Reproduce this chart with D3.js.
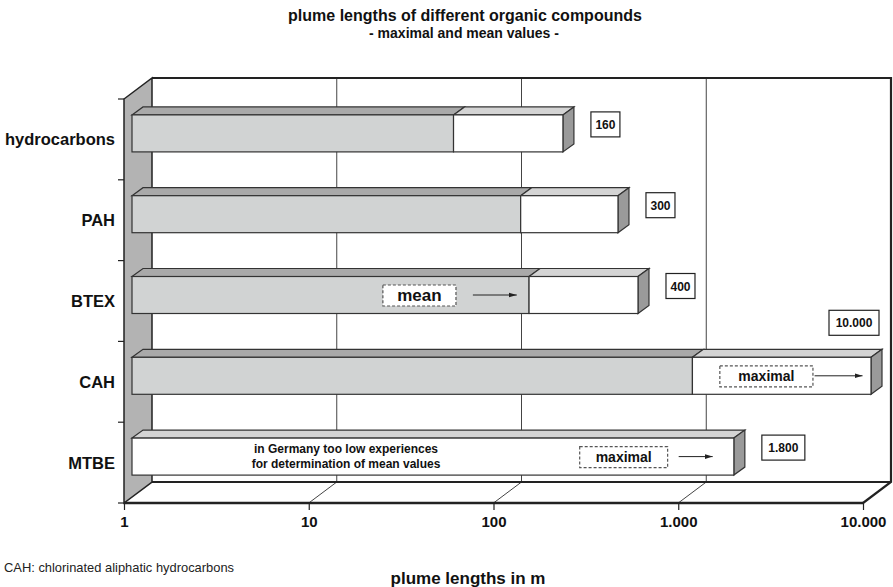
<!DOCTYPE html>
<html>
<head>
<meta charset="utf-8">
<script src="https://cdn.jsdelivr.net/npm/d3@7"></script>
<style>
body { margin: 0; background: #fff; }
text { font-family: "Liberation Sans", Arial, sans-serif; }
</style>
</head>
<body>
<svg id="chart" width="893" height="587"></svg>
<script>
// data
const cats = ["hydrocarbons", "PAH", "BTEX", "CAH", "MTBE"];
const meanVals = [55, 127, 141, 1080, null];
const maxVals = [215, 427, 548, 10000, 1810];
const maxLabels = ["160", "300", "400", "10.000", "1.800"];
const xTicks = [1, 10, 100, 1000, 10000];
// dashed note boxes, in data units along x
const notes = [
  {cat: "BTEX", text: "mean", size: 17, from: 22.8, to: 56.7, arrowFrom: 70, arrowTo: 121},
  {cat: "CAH", text: "maximal", size: 14, from: 1520, to: 4850, arrowFrom: 4950, arrowTo: 9000},
  {cat: "MTBE", text: "maximal", size: 14, from: 265, to: 793, arrowFrom: 910, arrowTo: 1390}
];

const svg = d3.select("#chart");
const de = {x: 28, y: -21};   // wall depth
const bf = {x: 8, y: -6};     // bar front offset
const bd = {x: 11, y: -8};    // bar depth

const x = d3.scaleLog().domain([1, 10000]).range([124, 863]);
const y = d3.scaleBand().domain(cats).range([99, 503]);
const barH = 37;
const de_ = d3.formatLocale({decimal: ",", thousands: ".", grouping: [3], currency: ["", "€"]});
const fmt = de_.format(",");

const x0 = x.range()[0], x1 = x.range()[1], yTop = 99, yBot = 503;
const poly = pts => pts.map(p => p.join(",")).join(" ");

// back wall
svg.append("rect")
  .attr("x", x0 + de.x).attr("y", yTop + de.y)
  .attr("width", x1 - x0).attr("height", yBot - yTop)
  .attr("fill", "#fff");

// gridlines on back wall
svg.selectAll("line.grid")
  .data(xTicks.slice(1, -1))
  .enter().append("line")
  .attr("x1", d => x(d) + de.x).attr("x2", d => x(d) + de.x)
  .attr("y1", yTop + de.y).attr("y2", yBot + de.y)
  .attr("stroke", "#444").attr("stroke-width", 1);

// floor diagonals
svg.selectAll("line.floor")
  .data(xTicks.slice(1, -1))
  .enter().append("line")
  .attr("x1", d => x(d)).attr("y1", yBot)
  .attr("x2", d => x(d) + de.x).attr("y2", yBot + de.y)
  .attr("stroke", "#444").attr("stroke-width", 1);

// back wall frame
svg.append("path")
  .attr("d", `M${x0 + de.x},${yTop + de.y}H${x1 + de.x}V${yBot + de.y}L${x1},${yBot}`)
  .attr("fill", "none").attr("stroke", "#222").attr("stroke-width", 2.2);
svg.append("line")
  .attr("x1", x0 + de.x).attr("x2", x1 + de.x)
  .attr("y1", yBot + de.y).attr("y2", yBot + de.y)
  .attr("stroke", "#222").attr("stroke-width", 2);

// left side wall
svg.append("polygon")
  .attr("points", poly([[x0, yTop], [x0 + de.x, yTop + de.y], [x0 + de.x, yBot + de.y], [x0, yBot]]))
  .attr("fill", "#b3b3b3").attr("stroke", "#222").attr("stroke-width", 1.5);

// y ticks
svg.selectAll("line.ytick")
  .data(cats.map(c => y(c)).concat([yBot]))
  .enter().append("line")
  .attr("x1", x0 - 6).attr("x2", x0)
  .attr("y1", d => d).attr("y2", d => d)
  .attr("stroke", "#222").attr("stroke-width", 1.2);

// front floor line
svg.append("line")
  .attr("x1", x0).attr("x2", x1).attr("y1", yBot).attr("y2", yBot)
  .attr("stroke", "#222").attr("stroke-width", 2.5);

// x axis
const ax = svg.append("g")
  .attr("transform", `translate(0,${yBot})`)
  .call(d3.axisBottom(x).tickValues(xTicks).tickFormat(fmt).tickSize(7).tickPadding(6));
ax.select(".domain").remove();
ax.selectAll("line").attr("stroke", "#222").attr("stroke-width", 1.2);
ax.selectAll("text").attr("font-size", 15).attr("font-weight", "bold").attr("fill", "#111");

// category labels
svg.selectAll("text.cat")
  .data(cats)
  .enter().append("text")
  .attr("x", 115).attr("y", d => y(d) + y.bandwidth() / 2 + 6)
  .attr("text-anchor", "end")
  .attr("font-size", 16.5).attr("font-weight", "bold").attr("fill", "#111")
  .text(d => d);

// bars
const stroke = "#333";
cats.forEach((c, i) => {
  const g = svg.append("g");
  const fy = y(c) + (y.bandwidth() - barH) / 2 + bf.y;
  const left = x(1) + bf.x;
  const mx = x(maxVals[i]) + bf.x;
  const mn = meanVals[i] == null ? left : x(meanVals[i]) + bf.x;
  // top faces
  const topFace = (a, b, fill) => g.append("polygon")
    .attr("points", poly([[a, fy], [a + bd.x, fy + bd.y], [b + bd.x, fy + bd.y], [b, fy]]))
    .attr("fill", fill).attr("stroke", stroke).attr("stroke-width", 1.2);
  if (mn > left) topFace(left, mn, "#a9a9a9");
  topFace(mn, mx, "#d4d4d4");
  // end face
  g.append("polygon")
    .attr("points", poly([[mx, fy], [mx + bd.x, fy + bd.y], [mx + bd.x, fy + bd.y + barH], [mx, fy + barH]]))
    .attr("fill", "#9a9a9a").attr("stroke", stroke).attr("stroke-width", 1.2);
  // front faces
  if (mn > left) g.append("rect")
    .attr("x", left).attr("y", fy).attr("width", mn - left).attr("height", barH)
    .attr("fill", "#d1d3d3").attr("stroke", stroke).attr("stroke-width", 1.2);
  g.append("rect")
    .attr("x", mn).attr("y", fy).attr("width", mx - mn).attr("height", barH)
    .attr("fill", "#fff").attr("stroke", stroke).attr("stroke-width", 1.2);

  // value label box
  const lbl = maxLabels[i];
  const w = lbl.length * 7 + 8;
  let bx = mx + 28, by = fy - 3;
  if (bx + w > x1 + de.x) { bx = x1 + 16 - w; by = fy - 47; }
  g.append("rect")
    .attr("x", bx).attr("y", by).attr("width", w).attr("height", 25)
    .attr("fill", "#fff").attr("stroke", "#222").attr("stroke-width", 1.2);
  g.append("text")
    .attr("x", bx + w / 2).attr("y", by + 17)
    .attr("text-anchor", "middle")
    .attr("font-size", 12).attr("font-weight", "bold").attr("fill", "#111")
    .text(lbl);
});

// MTBE remark
const mtbeY = y("MTBE") + (y.bandwidth() - barH) / 2 + bf.y;
svg.append("text")
  .attr("x", 346).attr("y", mtbeY + 15)
  .attr("text-anchor", "middle")
  .attr("font-size", 12).attr("font-weight", "bold").attr("fill", "#111")
  .selectAll("tspan")
  .data(["in Germany too low experiences", "for determination of mean values"])
  .enter().append("tspan")
  .attr("x", 346).attr("dy", (d, i) => i ? 15 : 0)
  .text(d => d);

// notes with arrows
svg.append("defs").append("marker")
  .attr("id", "arr").attr("viewBox", "0 0 10 10")
  .attr("refX", 10).attr("refY", 5)
  .attr("markerWidth", 8).attr("markerHeight", 8).attr("orient", "auto")
  .append("path").attr("d", "M0,2L10,5L0,8Z").attr("fill", "#222");

notes.forEach(n => {
  const fy = y(n.cat) + (y.bandwidth() - barH) / 2 + bf.y;
  const cy = fy + barH / 2;
  const a = x(n.from) + bf.x, b = x(n.to) + bf.x;
  svg.append("rect")
    .attr("x", a).attr("y", cy - 10).attr("width", b - a).attr("height", 21)
    .attr("fill", "#fff").attr("stroke", "#555").attr("stroke-width", 1.2)
    .attr("stroke-dasharray", "3,2");
  svg.append("text")
    .attr("x", (a + b) / 2).attr("y", cy + n.size * 0.36)
    .attr("text-anchor", "middle")
    .attr("font-size", n.size).attr("font-weight", "bold").attr("fill", "#111")
    .text(n.text);
  svg.append("line")
    .attr("x1", x(n.arrowFrom) + bf.x).attr("x2", x(n.arrowTo) + bf.x)
    .attr("y1", cy).attr("y2", cy)
    .attr("stroke", "#222").attr("stroke-width", 1)
    .attr("marker-end", "url(#arr)");
});

// titles
svg.append("text")
  .attr("x", 465).attr("y", 21).attr("text-anchor", "middle")
  .attr("font-size", 16).attr("font-weight", "bold").attr("fill", "#111")
  .text("plume lengths of different organic compounds");
svg.append("text")
  .attr("x", 464).attr("y", 38).attr("text-anchor", "middle")
  .attr("font-size", 14).attr("font-weight", "bold").attr("fill", "#111")
  .text("- maximal and mean values -");
svg.append("text")
  .attr("x", 468).attr("y", 584).attr("text-anchor", "middle")
  .attr("font-size", 17).attr("font-weight", "bold").attr("fill", "#111")
  .text("plume lengths in m");
svg.append("text")
  .attr("x", 4).attr("y", 572)
  .attr("font-size", 12.9).attr("fill", "#222")
  .text("CAH: chlorinated aliphatic hydrocarbons");
</script>
</body>
</html>
